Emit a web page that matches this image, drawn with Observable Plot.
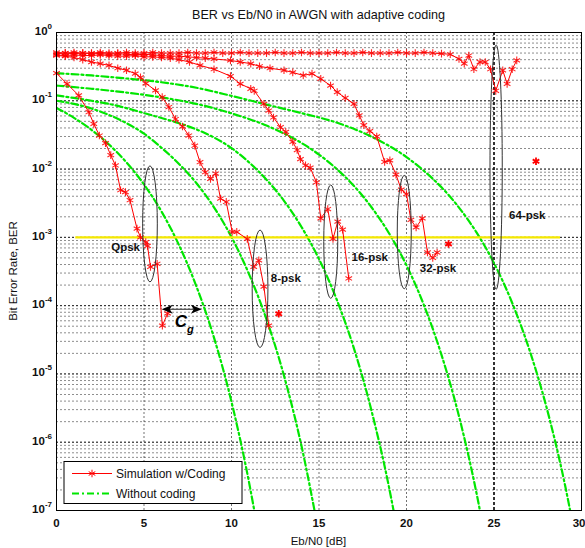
<!DOCTYPE html>
<html><head><meta charset="utf-8">
<script src="https://cdn.jsdelivr.net/npm/d3@7"></script>
<script src="https://cdn.jsdelivr.net/npm/@observablehq/plot@0.6"></script>
<style>
body{margin:0;background:#fff;}
#chart{width:585px;height:548px;}
svg{font-family:"Liberation Sans",Arial,Helvetica,sans-serif;}
</style></head><body><div id="chart"></div>
<script>
// ---------- Uncoded M-PSK curves (green) ----------
const uncQpskEbN0 = [0,1,2,3,4,5,6,7,8,9,10,11,12];
const uncQpskBER  = [0.0786,0.0563,0.0375,0.0229,0.0125,0.00595,0.00239,7.7e-4,1.9e-4,3.4e-5,3.9e-6,2.6e-7,9e-9];

const unc8pskEbN0 = [0,1,2,3,4,5,6,7,8,9,10,11,12,13,14,15];
const unc8pskBER  = [0.1,0.09,0.077,0.062,0.047,0.033,0.0205,0.0119,0.0062,0.00275,0.00101,2.9e-4,6.3e-5,9.4e-6,8.8e-7,4.5e-8];

const unc16pskEbN0 = [0,1,2,3,4,5,6,7,8,9,10,11,12,13,14,15,16,17,18,19,20];
const unc16pskBER  = [0.12,0.11,0.1,0.09,0.078,0.066,0.056,0.047,0.038,0.029,0.0203,0.01255,0.007,0.00343,0.00142,4.8e-4,1.25e-4,2.35e-5,2.9e-6,2.2e-7,8.5e-9];

const unc32pskEbN0 = [0,2,4,6,8,10,12,14,15,16,17,18,19,20,21,22,23,24,25];
const unc32pskBER  = [0.167,0.15,0.132,0.112,0.09,0.0654,0.0434,0.0241,0.0163,0.0101,0.00565,0.00276,0.00115,3.9e-4,1.01e-4,1.9e-5,2.4e-6,1.8e-7,7.1e-9];

const unc64pskEbN0 = [0,2,4,6,8,10,12,14,16,18,20,21,22,23,24,25,26,27,28,29,30];
const unc64pskBER  = [0.254,0.235,0.212,0.187,0.155,0.118,0.088,0.066,0.048,0.0298,0.015,0.0094,0.0054,0.00273,0.00118,4.2e-4,1.16e-4,2.35e-5,3.26e-6,2.77e-7,1.28e-8];

// ---------- Simulation with adaptive coding (red) ----------
const simQpskEbN0 = [0,0.6,1.27,1.85,2.13,2.45,2.8,3.1,3.37,3.66,3.94,4.2,4.6,4.8,5.1,5.2,5.37,5.75,6.05,6.35];
const simQpskBER  = [0.254,0.177,0.12,0.068,0.046,0.031,0.024,0.016,0.0113,0.0049,0.0046,0.0035,0.00134,0.001,0.00085,0.00075,0.00037,0.00041,5.1e-5,7.7e-5];

const sim8pskEbN0 = [0,0.5,1,1.5,2,2.5,3,3.5,4,4.5,4.8,5.1,5.66,6.04,6.42,6.8,7.2,7.56,7.9,8.2,8.5,8.8,9.1,9.37,9.7,10.04,10.3,10.9,11.27,11.56,11.85,12.13];
const sim8pskBER  = [0.46,0.45,0.43,0.4,0.37,0.35,0.33,0.3,0.28,0.25,0.22,0.18,0.142,0.113,0.081,0.054,0.042,0.031,0.022,0.0126,0.009,0.0072,0.0086,0.0037,0.0033,0.0012,0.0012,0.00095,0.00037,0.00046,0.00019,5.1e-5];

const sim16pskEbN0 = [0,0.5,1,1.5,2,2.5,3,3.5,4,4.5,5,5.5,6,6.5,7,7.6,8.2,9,9.94,10.5,11.1,11.3,11.85,12.13,12.4,12.8,13.1,13.5,13.75,13.94,14.23,14.5,14.85,15.1,15.5,15.8,16.07,16.35,16.7];
const sim16pskBER  = [0.47,0.46,0.47,0.46,0.46,0.47,0.46,0.45,0.45,0.46,0.44,0.44,0.43,0.42,0.4,0.37,0.33,0.29,0.23,0.177,0.15,0.14,0.09,0.072,0.057,0.041,0.035,0.025,0.019,0.014,0.0113,0.0105,0.0064,0.0019,0.0026,0.00095,0.0017,0.0013,0.00025];

const sim32pskEbN0 = [0,0.5,1,1.5,2,2.5,3,3.5,4,4.5,5,5.5,6,6.5,7,7.5,8,8.5,9,9.94,10.5,11.1,11.6,12.2,13,13.5,14.1,14.6,15.1,15.66,16.04,16.5,17,17.3,17.56,17.9,18.3,18.75,19.05,19.4,19.7,20,20.25,20.55,20.9,21.2,21.5,21.75];
const sim32pskBER  = [0.49,0.5,0.49,0.5,0.49,0.49,0.48,0.49,0.48,0.47,0.48,0.47,0.46,0.45,0.45,0.44,0.43,0.42,0.41,0.39,0.37,0.35,0.32,0.3,0.28,0.26,0.235,0.25,0.21,0.167,0.134,0.11,0.09,0.061,0.044,0.036,0.03,0.0127,0.0134,0.0083,0.005,0.0043,0.0018,0.0014,0.0019,0.0006,0.0005,0.0006];

const sim64pskEbN0 = [0,0.5,1,1.5,2,2.5,3,3.5,4,4.5,5,5.5,6,6.5,7,7.5,8,8.5,9,9.5,10,10.5,11,11.5,12,12.5,13,13.5,14,14.5,15,15.5,16,16.5,17,17.5,18,18.5,19,19.5,20,20.5,21,21.5,22,22.5,23,23.3,23.56,23.85,24.2,24.5,24.8,25.1,25.5,25.75,26.04,26.3];
const sim64pskBER  = [0.51,0.5,0.51,0.5,0.5,0.51,0.5,0.5,0.51,0.5,0.5,0.51,0.5,0.5,0.5,0.51,0.5,0.5,0.51,0.5,0.5,0.51,0.5,0.5,0.5,0.51,0.5,0.5,0.51,0.5,0.5,0.5,0.51,0.5,0.5,0.51,0.5,0.5,0.5,0.51,0.5,0.5,0.51,0.5,0.49,0.48,0.41,0.35,0.46,0.29,0.37,0.37,0.29,0.14,0.28,0.177,0.29,0.39];

// isolated simulation points
const simLoneEbN0 = [12.7,22.4,27.4];
const simLoneBER  = [7.6e-5,8e-4,0.013];

// ---------- Annotations ----------
const targetBER = 1e-3;
const targetFrom = 1.1, targetTo = 28.8;
const modLabels = ["Qpsk","8-psk","16-psk","32-psk","64-psk"];
const modLabelEbN0 = [3.95,13.1,17.9,21.8,26.9];
const modLabelBER  = [7.1e-4,2.5e-4,5.1e-4,3.5e-4,2.1e-3];
// ellipses: centre (dB, log10 BER), half-width (dB), half-height (decades)
const ellEbN0 = [5.37,11.66,15.7,19.9,25.15];
const ellLogBER = [-2.81,-3.76,-3.07,-2.93,-1.98];
const ellHalfW = [0.42,0.45,0.4,0.4,0.35];
const ellHalfH = [0.85,0.86,0.83,0.83,1.79];
const cgArrowFrom = 6.04, cgArrowTo = 8.33, cgArrowBER = 8.7e-5;
const yExponents = [0,-1,-2,-3,-4,-5,-6,-7];
const xTicks = [0,5,10,15,20,25,30];
const xGrid = [5,10,15,20];
const thresholdLine = 25;

function rows(xs, ys, name){ return xs.map((x,i)=>({x, y: ys[i], name})); }
const greenRows = [
  ...rows(uncQpskEbN0, uncQpskBER, "qpsk"),
  ...rows(unc8pskEbN0, unc8pskBER, "8psk"),
  ...rows(unc16pskEbN0, unc16pskBER, "16psk"),
  ...rows(unc32pskEbN0, unc32pskBER, "32psk"),
  ...rows(unc64pskEbN0, unc64pskBER, "64psk")
];
const redRows = [
  ...rows(simQpskEbN0, simQpskBER, "qpsk"),
  ...rows(sim8pskEbN0, sim8pskBER, "8psk"),
  ...rows(sim16pskEbN0, sim16pskBER, "16psk"),
  ...rows(sim32pskEbN0, sim32pskBER, "32psk"),
  ...rows(sim64pskEbN0, sim64pskBER, "64psk")
];
const loneRows = rows(simLoneEbN0, simLoneBER, "lone");
const labelRows = modLabels.map((t,i)=>({t, x: modLabelEbN0[i], y: modLabelBER[i]}));
const minorY = d3.scaleLog().domain([1e-7,1]).ticks();
const majorY = yExponents.map(e => 10 ** e);
const xTicksInner = xTicks.filter(d => d < 30);
const xTicksLast = xTicks.filter(d => d === 30);

const FONT = '"Liberation Sans",Arial,Helvetica,sans-serif';
const RED = "#ff0000", GREEN = "#00e600", YELLOW = "#f5e800";

const chart = Plot.plot({
  width: 585, height: 548,
  marginLeft: 56, marginRight: 4, marginTop: 32, marginBottom: 38,
  x: {domain: [0, 30], axis: null},
  y: {type: "log", domain: [1e-7, 1], axis: null},
  style: {fontFamily: FONT, background: "#fff"},
  marks: [
    Plot.ruleY(minorY, {stroke: "#000", strokeOpacity: 0.45, strokeDasharray: "2,2"}),
    Plot.ruleY(majorY, {stroke: "#000", strokeOpacity: 0.75, strokeDasharray: "2,2"}),
    Plot.ruleX(xGrid, {stroke: "#000", strokeOpacity: 0.55, strokeDasharray: "2,2"}),
    Plot.ruleX([thresholdLine], {stroke: "#000", strokeWidth: 1.6, strokeDasharray: "3,2"}),
    Plot.line(greenRows, {x: "x", y: "y", z: "name", stroke: GREEN, strokeWidth: 2.2, strokeDasharray: "7,3,2,3", curve: "monotone-x", clip: true}),
    Plot.ruleY([{y: targetBER, x1: targetFrom, x2: targetTo}], {y: "y", x1: "x1", x2: "x2", stroke: YELLOW, strokeWidth: 2.2}),
    Plot.line(redRows, {x: "x", y: "y", z: "name", stroke: RED, strokeWidth: 1}),
    Plot.dot(redRows, {x: "x", y: "y", symbol: "asterisk", r: 3.6, stroke: RED, strokeWidth: 1.1, strokeOpacity: 0.85}),
    Plot.dot(loneRows, {x: "x", y: "y", symbol: "asterisk", r: 3.6, stroke: RED, strokeWidth: 1.8}),
    // ellipses
    (index, scales, values, dims) => {
      const g = d3.create("svg:g").attr("fill", "none").attr("stroke", "#333").attr("stroke-width", 1);
      ellEbN0.forEach((cx, i) => {
        const px = scales.x(cx), py = scales.y(10 ** ellLogBER[i]);
        const rx = Math.abs(scales.x(cx + ellHalfW[i]) - px);
        const ry = Math.abs(scales.y(10 ** (ellLogBER[i] + ellHalfH[i])) - py);
        g.append("ellipse").attr("cx", px).attr("cy", py).attr("rx", rx).attr("ry", ry);
      });
      return g.node();
    },
    // C_g double arrow
    (index, scales, values, dims) => {
      const g = d3.create("svg:g");
      const x1 = scales.x(cgArrowFrom), x2 = scales.x(cgArrowTo), y = scales.y(cgArrowBER);
      g.append("line").attr("x1", x1 + 6).attr("x2", x2 - 6).attr("y1", y).attr("y2", y).attr("stroke", "#444").attr("stroke-width", 1.2);
      g.append("path").attr("d", `M${x1},${y}L${x1 + 11},${y - 4.5}L${x1 + 8},${y}L${x1 + 11},${y + 4.5}Z`).attr("fill", "#000");
      g.append("path").attr("d", `M${x2},${y}L${x2 - 11},${y - 4.5}L${x2 - 8},${y}L${x2 - 11},${y + 4.5}Z`).attr("fill", "#000");
      const t = g.append("text").attr("x", x1 + 13).attr("y", y + 18).attr("text-anchor", "start").attr("font-family", FONT).attr("font-style", "italic").attr("font-weight", "bold");
      t.append("tspan").attr("font-size", 17).text("C");
      t.append("tspan").attr("font-size", 11).attr("dy", 6).text("g");
      return g.node();
    },
    Plot.text(labelRows, {x: "x", y: "y", text: "t", fontSize: 11.5, fontWeight: "bold", fill: "#111"}),
    Plot.frame({stroke: "#000"}),
    // x tick labels
    Plot.text(xTicksInner, {x: d => d, y: () => 1e-7, dy: 13, text: d => String(d), fontSize: 11.5, fontWeight: "bold", fill: "#111"}),
    Plot.text(xTicksLast, {x: d => d, y: () => 1e-7, dy: 13, dx: 4, text: d => String(d), fontSize: 11.5, fontWeight: "bold", fill: "#111", textAnchor: "end"}),
    // y tick labels (10 with exponent)
    (index, scales, values, dims) => {
      const g = d3.create("svg:g").attr("font-family", FONT).attr("font-size", 11.5).attr("font-weight", "bold").attr("text-anchor", "end").attr("fill", "#111");
      yExponents.forEach(e => {
        const t = g.append("text").attr("x", dims.marginLeft - 4).attr("y", scales.y(10 ** e) + 3);
        t.append("tspan").text("10");
        t.append("tspan").attr("dy", -6).attr("font-size", 8).text(String(e));
      });
      return g.node();
    },
    // title & axis labels
    (index, scales, values, dims) => {
      const g = d3.create("svg:g").attr("font-family", FONT).attr("fill", "#111").attr("text-anchor", "middle");
      const cx = (dims.marginLeft + dims.width - dims.marginRight) / 2;
      g.append("text").attr("x", cx).attr("y", 19).attr("font-size", 12.6).text("BER vs Eb/N0 in AWGN with adaptive coding");
      g.append("text").attr("x", cx).attr("y", 545).attr("font-size", 11.5).text("Eb/N0 [dB]");
      const cy = (dims.marginTop + dims.height - dims.marginBottom) / 2;
      g.append("text").attr("transform", `translate(17,${cy}) rotate(-90)`).attr("font-size", 11.5).text("Bit Error Rate, BER");
      return g.node();
    },
    // legend
    (index, scales, values, dims) => {
      const g = d3.create("svg:g").attr("font-family", FONT).attr("text-anchor", "start");
      const x0 = dims.marginLeft + 8, y0 = dims.height - dims.marginBottom - 48.5;
      g.append("rect").attr("x", x0).attr("y", y0).attr("width", 178).attr("height", 42).attr("fill", "#fff").attr("stroke", "#000");
      const y1 = y0 + 12, y2 = y0 + 32;
      g.append("line").attr("x1", x0 + 8).attr("x2", x0 + 48).attr("y1", y1).attr("y2", y1).attr("stroke", RED).attr("stroke-width", 1);
      g.append("path").attr("d", d3.symbol(d3.symbolAsterisk, 40)()).attr("transform", `translate(${x0 + 28},${y1})`).attr("stroke", RED).attr("fill", "none");
      g.append("line").attr("x1", x0 + 8).attr("x2", x0 + 48).attr("y1", y2).attr("y2", y2).attr("stroke", GREEN).attr("stroke-width", 2.2).attr("stroke-dasharray", "7,3,2,3");
      g.append("text").attr("x", x0 + 52).attr("y", y1 + 4.5).attr("font-size", 12).attr("fill", "#111").text("Simulation w/Coding");
      g.append("text").attr("x", x0 + 52).attr("y", y2 + 4.5).attr("font-size", 12).attr("fill", "#111").text("Without coding");
      return g.node();
    }
  ]
});
document.getElementById("chart").appendChild(chart);
</script></body></html>
